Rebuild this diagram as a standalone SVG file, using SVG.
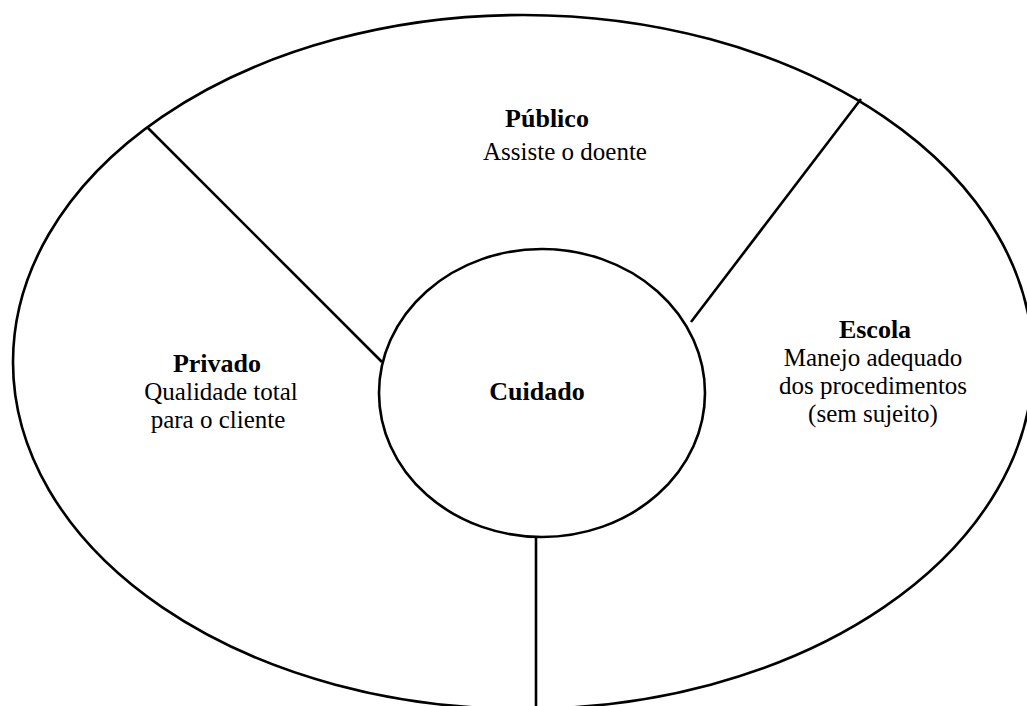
<svg xmlns="http://www.w3.org/2000/svg" width="1027" height="706" viewBox="0 0 1027 706">
  <style>
    .outline { fill: none; stroke: #000; stroke-width: 2.6; }
    .divider { fill: none; stroke: #000; stroke-width: 2.6; stroke-linecap: butt; }
    text { font-family: "Liberation Serif", "Times New Roman", serif; font-size: 25px; fill: #000; text-anchor: middle; }
    .title { font-weight: bold; font-size: 26px; }
  </style>
  <rect width="1027" height="706" fill="#fff"/>

  <!-- outer ellipse split into three sectors -->
  <g id="outer">
    <ellipse class="outline" cx="523" cy="362" rx="510" ry="347"/>
  </g>

  <!-- dividers between sectors -->
  <g id="connectors">
    <line class="divider" x1="148" y1="128" x2="382" y2="362"/>
    <line class="divider" x1="861" y1="99" x2="691" y2="322"/>
    <line class="divider" x1="536" y1="537" x2="536" y2="706"/>
  </g>

  <g id="cuidado">
    <ellipse class="outline" cx="542" cy="393" rx="163" ry="144"/>
    <text class="title" x="537" y="400">Cuidado</text>
  </g>

  <g id="publico">
    <text class="title" x="547" y="127">Público</text>
    <text x="565" y="160">Assiste o doente</text>
  </g>

  <g id="privado">
    <text class="title" x="217" y="372">Privado</text>
    <text x="221" y="400">Qualidade total</text>
    <text x="218" y="428">para o cliente</text>
  </g>

  <g id="escola">
    <text class="title" x="875" y="338">Escola</text>
    <text x="873" y="366">Manejo adequado</text>
    <text x="873" y="394">dos procedimentos</text>
    <text x="873" y="422">(sem sujeito)</text>
  </g>
</svg>
